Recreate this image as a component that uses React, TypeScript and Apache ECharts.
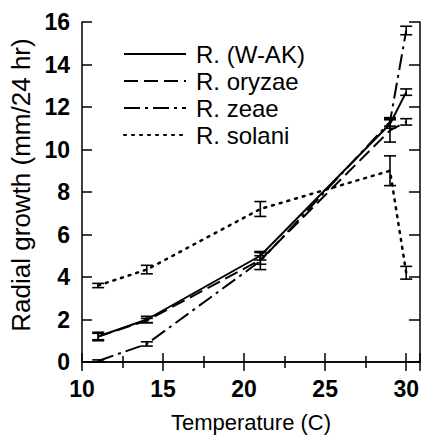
import React, { useEffect, useRef } from "react";
import * as echarts from "echarts";

const temps = [11, 14, 21, 29, 30];
const wak = [1.2, 2.0, 5.0, 11.2, 12.7];
const oryzae = [1.2, 1.95, 4.8, 10.9, 11.3];
const zeae = [0.05, 0.85, 4.75, 11.3, 15.6];
const solani = [3.6, 4.35, 7.2, 9.0, 4.2];

const wakErr = [0.2, 0.15, 0.2, 0.2, 0.15];
const oryzaeErr = [0.15, 0.1, 0.2, 0.55, 0.15];
const zeaeErr = [0.05, 0.1, 0.4, 0.2, 0.2];
const solaniErr = [0.1, 0.2, 0.35, 0.7, 0.3];

const seriesNames = ["R. (W-AK)", "R. oryzae", "R. zeae", "R. solani"];
const xTicks = [10, 15, 20, 25, 30];
const yTicks = [0, 2, 4, 6, 8, 10, 12, 14, 16];

const FONT = "'Liberation Sans', Arial, Helvetica, sans-serif";

export default function App() {
  const ref = useRef<HTMLDivElement>(null);
  useEffect(() => {
    if (!ref.current) return;
    const chart = echarts.init(ref.current, undefined, { renderer: "svg" });
    const vals = [wak, oryzae, zeae, solani];
    const errs = [wakErr, oryzaeErr, zeaeErr, solaniErr];
    const dashes: any[] = ["solid", [14, 6], [16, 5, 3, 5], [2, 6]];
    const widths = [2, 2, 2, 2.5];

    const lineSeries = vals.map((v, i) => ({
      name: seriesNames[i],
      type: "line",
      data: temps.map((t, j) => [t, v[j]]),
      symbol: "none",
      lineStyle: { color: "#000", width: widths[i], type: dashes[i], cap: i === 3 ? "round" : "butt" },
      itemStyle: { color: "#000" },
      z: 3,
    }));

    const errSeries = vals.map((v, i) => ({
      name: seriesNames[i] + " err",
      type: "custom",
      data: temps.map((t, j) => [t, v[j] - errs[i][j], v[j] + errs[i][j]]),
      renderItem: (params: any, api: any) => {
        const x = api.value(0);
        const p1 = api.coord([x, api.value(1)]);
        const p2 = api.coord([x, api.value(2)]);
        const w = 6;
        const st = { stroke: "#000", lineWidth: 1.6 };
        return {
          type: "group",
          children: [
            { type: "line", shape: { x1: p1[0], y1: p1[1], x2: p2[0], y2: p2[1] }, style: st },
            { type: "line", shape: { x1: p1[0] - w, y1: p1[1], x2: p1[0] + w, y2: p1[1] }, style: st },
            { type: "line", shape: { x1: p2[0] - w, y1: p2[1], x2: p2[0] + w, y2: p2[1] }, style: st },
          ],
        };
      },
      z: 4,
    }));

    const axisLine = { show: true, lineStyle: { color: "#000", width: 1.5 } };

    chart.setOption({
      animation: false,
      backgroundColor: "#fff",
      grid: { left: 82, top: 22, right: 1, bottom: 79 },
      legend: {
        data: seriesNames,
        orient: "vertical",
        left: 123,
        top: 42,
        itemWidth: 62,
        itemHeight: 21,
        itemGap: 3,
        padding: 0,
        itemStyle: { opacity: 0 },
        textStyle: { fontFamily: FONT, fontSize: 24, color: "#000", padding: [6, 0, 0, 5] },
      },
      xAxis: [
        {
          type: "value",
          min: 10,
          max: 30.85,
          interval: 5,
          position: "bottom",
          axisLine,
          axisTick: { show: true, inside: true, length: 9, lineStyle: { color: "#000", width: 1.5 } },
          minorTick: { show: true, splitNumber: 2, length: 6, lineStyle: { color: "#000", width: 1.5 } },
          splitLine: { show: false },
          axisLabel: {
            show: true,
            margin: 15,
            showMaxLabel: false,
            fontFamily: FONT,
            fontSize: 23,
            fontWeight: "bold",
            color: "#000",
            formatter: (v: number) => (xTicks.indexOf(v) >= 0 ? String(v) : ""),
          },
          name: "Temperature (C)",
          nameLocation: "middle",
          nameGap: 49,
          nameTextStyle: { fontFamily: FONT, fontSize: 22, color: "#000" },
        },
        {
          type: "value",
          min: 10,
          max: 30.85,
          interval: 5,
          position: "top",
          axisLine,
          axisTick: { show: true, inside: true, length: 9, lineStyle: { color: "#000", width: 1.5 } },
          minorTick: { show: true, splitNumber: 2, length: 6, lineStyle: { color: "#000", width: 1.5 } },
          splitLine: { show: false },
          axisLabel: { show: false },
        },
      ],
      yAxis: [
        {
          type: "value",
          min: 0,
          max: 16,
          interval: 2,
          position: "left",
          axisLine,
          axisTick: { show: true, inside: true, length: 10, lineStyle: { color: "#000", width: 1.5 } },
          splitLine: { show: false },
          axisLabel: {
            margin: 12,
            fontFamily: FONT,
            fontSize: 23,
            fontWeight: "bold",
            color: "#000",
            formatter: (v: number) => (yTicks.indexOf(v) >= 0 ? String(v) : ""),
          },
        },
        {
          type: "value",
          min: 0,
          max: 16,
          interval: 2,
          position: "right",
          axisLine,
          axisTick: { show: true, inside: true, length: 11, lineStyle: { color: "#000", width: 1.5 } },
          splitLine: { show: false },
          axisLabel: { show: false },
        },
      ],
      graphic: [
        {
          type: "text",
          x: 21,
          y: 185,
          rotation: Math.PI / 2,
          style: {
            text: "Radial growth (mm/24 hr)",
            fontFamily: FONT,
            fontSize: 26,
            fill: "#000",
            align: "center",
            verticalAlign: "middle",
          },
        },
      ],
      series: [...lineSeries, ...errSeries],
    });
    return () => chart.dispose();
  }, []);
  return (
    <div
      ref={ref}
      style={{ position: "fixed", left: 0, top: 0, width: 422, height: 441, background: "#fff" }}
    />
  );
}
